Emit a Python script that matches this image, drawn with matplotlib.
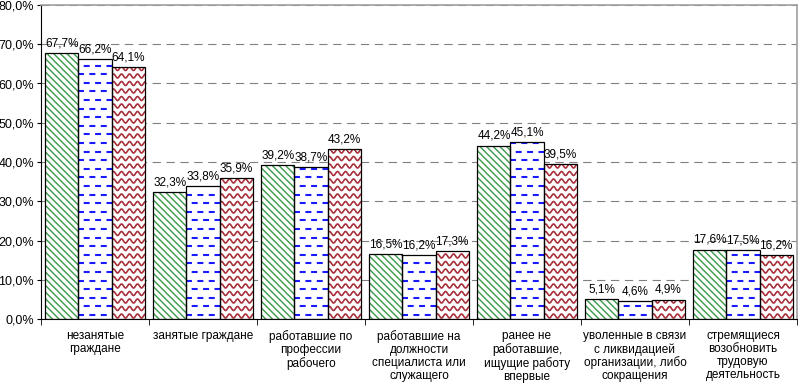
import numpy as np
import matplotlib.pyplot as plt

plt.rcParams['font.family'] = ['Liberation Sans', 'DejaVu Sans']
plt.rcParams['hatch.linewidth'] = 1.0
plt.rcParams['lines.scale_dashes'] = False

categories = ['незанятые\nграждане', 'занятые граждане',
              'работавшие по\nпрофессии\nрабочего',
              'работавшие на\nдолжности\nспециалиста или\nслужащего',
              'ранее не\nработавшие,\nищущие работу\nвпервые',
              'уволенные в связи\nс ликвидацией\nорганизации, либо\nсокращения',
              'стремящиеся\nвозобновить\nтрудовую\nдеятельность']
series_1 = [67.7, 32.3, 39.2, 16.5, 44.2, 5.1, 17.6]
series_2 = [66.2, 33.8, 38.7, 16.2, 45.1, 4.6, 17.5]
series_3 = [64.1, 35.9, 43.2, 17.3, 39.5, 4.9, 16.2]
y_ticks = [0, 10, 20, 30, 40, 50, 60, 70, 80]

W, H = 801, 383
fig = plt.figure(figsize=(W / 100, H / 100), dpi=100)
ax = fig.add_axes([41 / W, 1 - 319 / H, 756 / W, 314 / H])
ax.set_xlim(-0.5, 6.5)
ax.set_ylim(0, 80)

# data units per pixel
kx = 7 / 756
ky = 80 / 314

x = np.arange(len(categories))
w = 0.306

# green: diagonal hatch
ax.bar(x - w, series_1, w, color='white', edgecolor='#3a9a48', hatch='\\\\\\\\\\', linewidth=0, zorder=2)
ax.bar(x - w, series_1, w, facecolor='none', edgecolor='black', linewidth=0.9, zorder=4)

# blue: staggered dashes
bars_b = ax.bar(x, series_2, w, color='white', edgecolor='none', zorder=2)
for b in bars_b:
    x0 = b.get_x()
    h = b.get_height()
    for k, yy in enumerate(np.arange(4 * ky, h, 8.6 * ky)):
        off = 0 if k % 2 == 0 else 4.1
        ln, = ax.plot([x0, x0 + w], [yy, yy], color='#1a1aff', lw=1.5,
                      linestyle=(off, (4.3, 3.9)), solid_capstyle='butt', zorder=3)
        ln.set_clip_path(b)
ax.bar(x, series_2, w, facecolor='none', edgecolor='black', linewidth=0.9, zorder=4)

# red: wavy lines
bars_r = ax.bar(x + w, series_3, w, color='white', edgecolor='none', zorder=2)
for b in bars_r:
    x0 = b.get_x()
    h = b.get_height()
    px = np.linspace(0, 34, 140)
    for yy in np.arange(3 * ky, h + 3 * ky, 7.5 * ky):
        ln, = ax.plot(x0 + px * kx, yy + 2.0 * ky * np.sin(2 * np.pi * px / 8.0),
                      color='#a8303a', lw=1.2, zorder=3)
        ln.set_clip_path(b)
ax.bar(x + w, series_3, w, facecolor='none', edgecolor='black', linewidth=0.9, zorder=4)

# value labels
for off, vals in ((-w, series_1), (0, series_2), (w, series_3)):
    for xi, v in zip(x, vals):
        ax.text(xi + off, v + 1.0, f'{v:.1f}%'.replace('.', ','), ha='center', va='bottom',
                fontsize=8.5, zorder=5)

ax.set_yticks(y_ticks)
ax.set_yticklabels([f'{v:.1f}%'.replace('.', ',') for v in y_ticks], fontsize=9)
ax.yaxis.grid(True, linestyle=(0, (6, 4)), color='#808080', lw=0.8)
ax.set_axisbelow(True)
ax.tick_params(axis='y', length=3, pad=2)

ax.set_xticks(x)
ax.set_xticklabels(categories, fontsize=8.5, linespacing=1.1)
ax.set_xticks(np.arange(-0.5, 7, 1), minor=True)
ax.tick_params(axis='x', which='major', length=0, pad=8)
ax.tick_params(axis='x', which='minor', length=4)

for s in ('top', 'right'):
    ax.spines[s].set_color('#a0a0a0')
    ax.spines[s].set_linewidth(1.2)
ax.spines['left'].set_color('black')
ax.spines['bottom'].set_color('black')

fig.savefig('out.png', dpi=100)
